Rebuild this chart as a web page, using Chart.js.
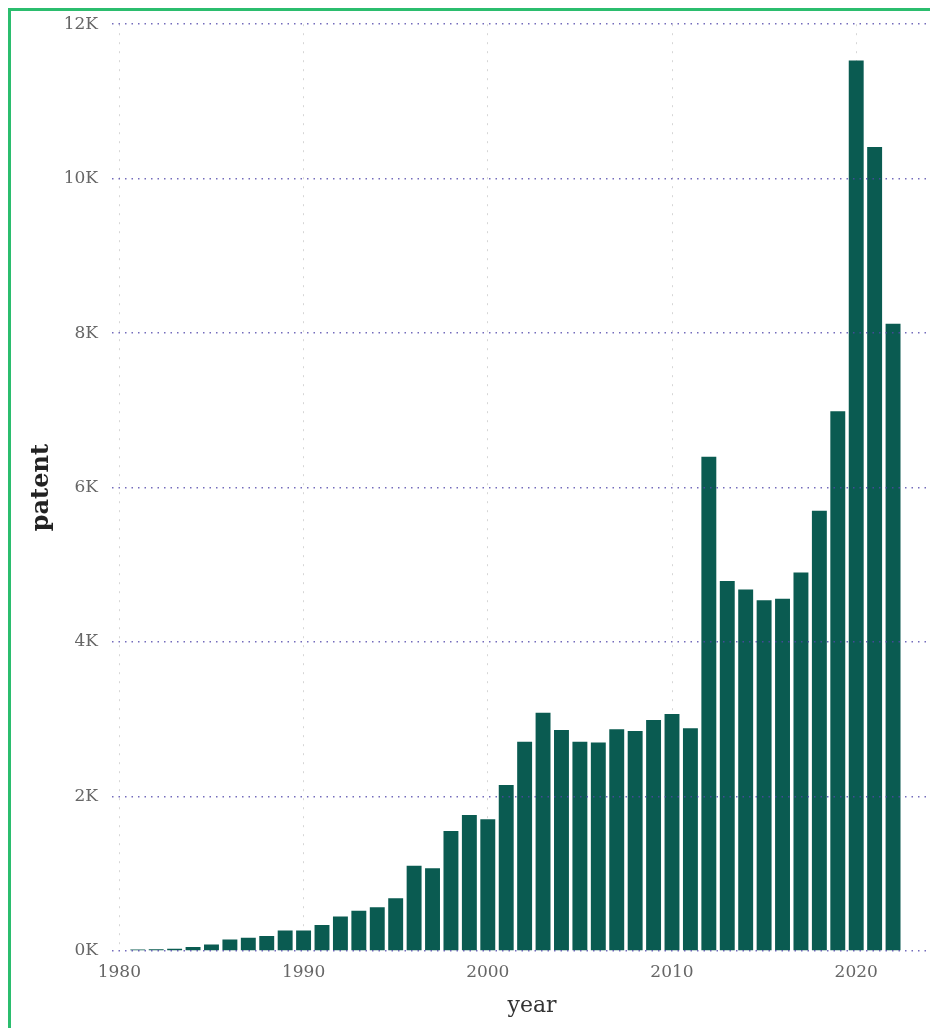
<!DOCTYPE html>
<html>
<head>
<meta charset="utf-8">
<title>patent by year</title>
<script src="https://cdn.jsdelivr.net/npm/chart.js@4.4.0/dist/chart.umd.min.js"></script>
<style>
  html, body { margin: 0; padding: 0; background: #fff; overflow: hidden; width: 930px; height: 1028px; }
  #frame { position: absolute; left: 8px; top: 8px; width: 1000px; height: 1100px; border: 3px solid #2bbd6e; box-sizing: border-box; }
  #c { position: absolute; left: 0; top: 0; }
</style>
</head>
<body>
<div id="frame"></div>
<canvas id="c" width="960" height="1040"></canvas>
<script>
// Patent counts per year
const years = [
  1981, 1982, 1983, 1984, 1985, 1986, 1987, 1988, 1989, 1990,
  1991, 1992, 1993, 1994, 1995, 1996, 1997, 1998, 1999, 2000,
  2001, 2002, 2003, 2004, 2005, 2006, 2007, 2008, 2009, 2010,
  2011, 2012, 2013, 2014, 2015, 2016, 2017, 2018, 2019, 2020,
  2021, 2022
];
const patents = [
  18, 22, 30, 52, 83, 148, 173, 195, 264, 266,
  337, 446, 520, 567, 684, 1104, 1070, 1553, 1760, 1705,
  2149, 2710, 3085, 2860, 2710, 2700, 2870, 2848, 2990, 3068,
  2883, 6400, 4790, 4680, 4540, 4560, 4900, 5700, 6990, 11530,
  10410, 8120
];
const yearTicks = [1980, 1990, 2000, 2010, 2020];
const patentTicks = [0, 2000, 4000, 6000, 8000, 10000, 12000];

const serif = 'DejaVu Serif';

new Chart(document.getElementById('c').getContext('2d'), {
  type: 'bar',
  data: {
    datasets: [{
      label: 'patent',
      data: years.map((yr, i) => ({ x: yr, y: patents[i] })),
      backgroundColor: '#0a5b51',
      borderWidth: 0,
      barPercentage: 0.81,
      categoryPercentage: 1
    }]
  },
  options: {
    responsive: false,
    animation: false,
    devicePixelRatio: 1,
    layout: { padding: { left: 0, top: 24, right: 8, bottom: 0 } },
    plugins: { legend: { display: false }, tooltip: { enabled: false } },
    scales: {
      x: {
        type: 'linear',
        min: 1979.6,
        max: 2025.2,
        offset: false,
        afterBuildTicks: s => { s.ticks = yearTicks.map(v => ({ value: v })); },
        afterFit: s => { s.height = 89; },
        grid: { color: '#d6d6d6', lineWidth: 1, drawTicks: false, offset: false },
        border: { display: false, dash: [2, 7] },
        ticks: {
          font: { family: serif, size: 17 },
          color: '#666',
          padding: 11,
          maxRotation: 0,
          autoSkip: false,
          callback: v => String(v)
        },
        title: {
          display: true,
          text: 'year',
          font: { family: serif, size: 22 },
          color: '#333',
          padding: { top: 0, bottom: 21 }
        }
      },
      y: {
        min: 0,
        max: 12000,
        afterBuildTicks: s => { s.ticks = patentTicks.map(v => ({ value: v })); },
        afterFit: s => { s.width = 112; },
        grid: { color: 'rgba(80,70,170,0.8)', lineWidth: 1.5, drawTicks: false, z: 1 },
        border: { display: false, dash: [1.5, 5] },
        ticks: {
          font: { family: serif, size: 17 },
          color: '#666',
          padding: 14,
          callback: v => (v / 1000) + 'K'
        },
        title: {
          display: true,
          text: 'patent',
          font: { family: serif, size: 24, weight: 'bold' },
          color: '#222',
          padding: { top: 27, bottom: 0 }
        }
      }
    }
  }
});
</script>
</body>
</html>
